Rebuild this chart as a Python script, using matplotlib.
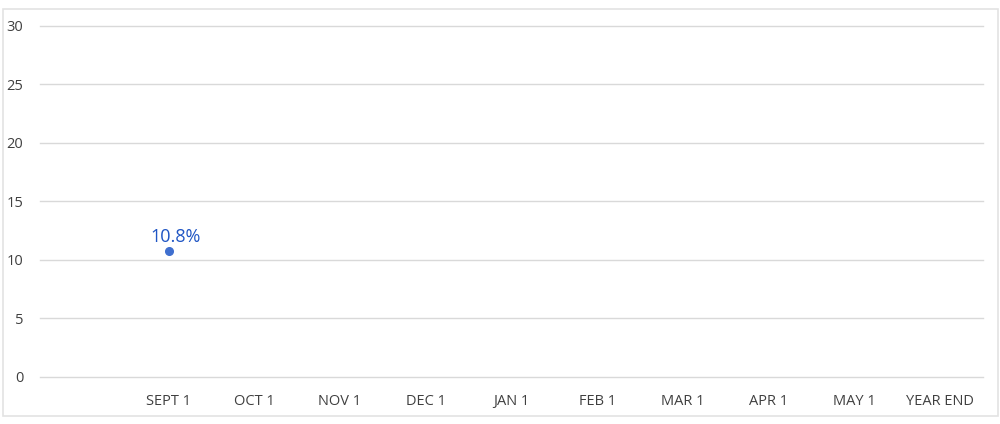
import matplotlib.pyplot as plt
from matplotlib.patches import Rectangle

categories = ["", "SEPT 1", "OCT 1", "NOV 1", "DEC 1", "JAN 1", "FEB 1",
              "MAR 1", "APR 1", "MAY 1", "YEAR END"]
point_category = "SEPT 1"
point_value = 10.8
y_ticks = [0, 5, 10, 15, 20, 25, 30]

plt.rcParams['font.family'] = ['Open Sans', 'DejaVu Sans']

fig = plt.figure(figsize=(10, 4.24), dpi=100)
ax = fig.add_axes([0.040, 0.111, 0.943, 0.828])

x_positions = list(range(len(categories)))
px = categories.index(point_category)
ax.plot([px], [point_value], 'o', color='#3F6FCF', markersize=5.5, zorder=3)
ax.annotate(f"{point_value}%", (px, point_value), xytext=(5, 3),
            textcoords='offset points', ha='center', va='bottom',
            color='#1F55C4', fontsize=13)

ax.set_xlim(-0.5, len(categories) - 0.5)
ax.set_ylim(0, 30)
ax.set_yticks(y_ticks)
ax.set_xticks(x_positions)
ax.set_xticklabels(categories)
ax.grid(axis='y', color='#D9D9D9', linewidth=1)
for gl in ax.yaxis.get_gridlines():
    gl.set_clip_on(False)
ax.set_axisbelow(True)
for s in ax.spines.values():
    s.set_visible(False)
ax.tick_params(axis='both', length=0, colors='#404040', labelsize=10.5)
ax.tick_params(axis='x', pad=12)
ax.tick_params(axis='y', pad=12)

fig.patches.append(Rectangle((0.003, 0.019), 0.995, 0.960, transform=fig.transFigure,
                             fill=False, edgecolor='#E3E3E3', linewidth=1.2))

fig.savefig("out.png", dpi=100)
